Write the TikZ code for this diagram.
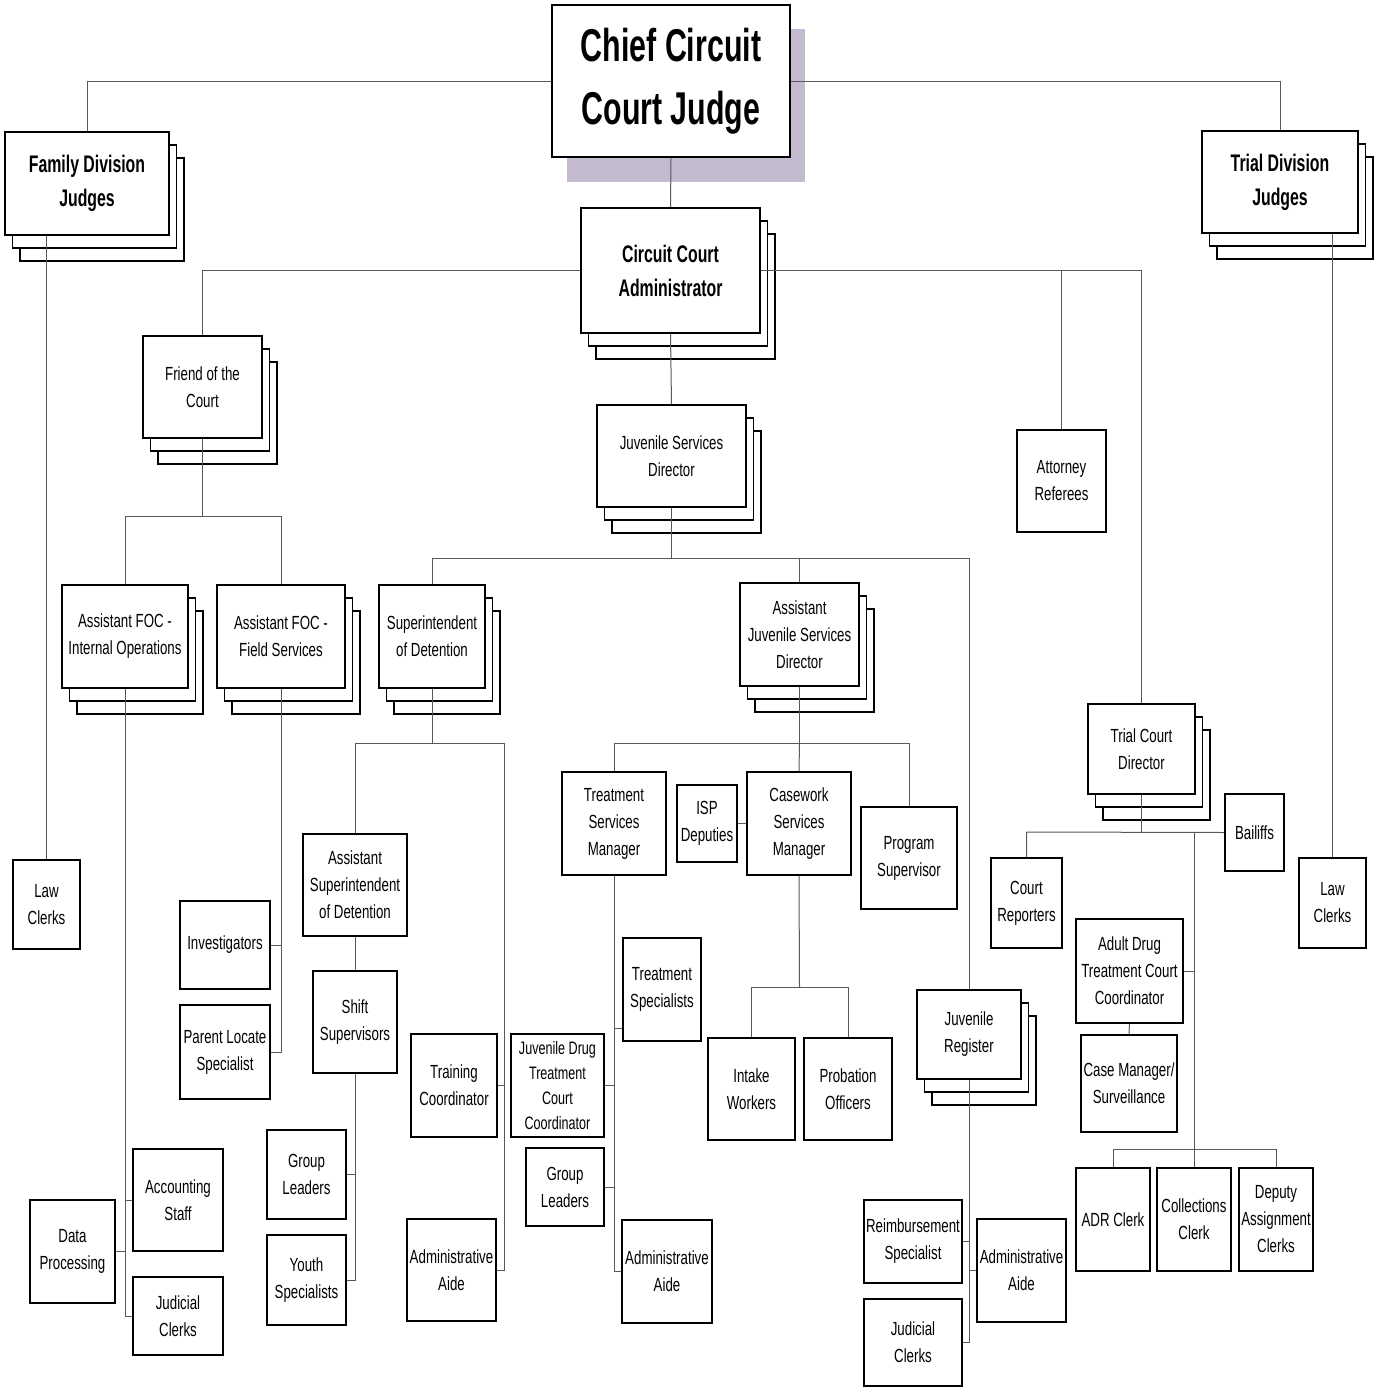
\documentclass[tikz,border=0pt]{standalone}
\usepackage{fontspec}
\setmainfont{Liberation Sans}
\newfontfamily\nar[FakeStretch=0.7]{Liberation Sans}
\newfontfamily\narb[FakeStretch=0.66]{Liberation Sans}
\usetikzlibrary{calc}
\definecolor{shadowc}{RGB}{196,186,208}
\tikzset{
  box/.style={draw=black, line width=1.6pt, fill=white, align=center, inner sep=0.5pt,
    font=\nar\fontsize{19}{27}\selectfont},
  bigbox/.style={font=\narb\bfseries\fontsize{24}{34}\selectfont},
  chiefbox/.style={font=\narb\bfseries\fontsize{46}{63}\selectfont},
  smallbox/.style={font=\nar\fontsize{18}{25}\selectfont},
  stk/.style={draw=black, line width=1.6pt, fill=white},
  conn/.style={draw=black!65, line width=1pt},
}
\newcommand\bx[7][]{\node[box,#1,minimum width={(#5-#3)*1pt},minimum height={(#6-#4)*1pt}] (#2) at ({(#3+#5)/2},{(#4+#6)/2}) {#7};}
\newcommand\sbx[7][]{%
  \draw[stk] ({#3+15},{#4+26}) rectangle ({#5+15},{#6+26});%
  \draw[stk] ({#3+7.5},{#4+13}) rectangle ({#5+7.5},{#6+13});%
  \bx[#1]{#2}{#3}{#4}{#5}{#6}{#7}}
\begin{document}
\begin{tikzpicture}[x=1pt,y=-1pt]
\fill[white] (0,0) rectangle (1374,1387);
\useasboundingbox (0,0) rectangle (1374,1387);

% chief
\fill[shadowc] (567,29) rectangle (805,182);
\bx[chiefbox]{chief}{552}{5}{790}{157}{Chief Circuit\\Court Judge}
\sbx[bigbox]{fdj}{5}{132}{169}{235}{Family Division\\Judges}
\sbx[bigbox]{tdj}{1202}{131}{1358}{233}{Trial Division\\Judges}
\sbx[bigbox]{cca}{581}{208}{760}{333}{Circuit Court\\Administrator}
\sbx{foc}{143}{336}{262}{438}{Friend of the\\Court}
\sbx{jsd}{597}{405}{746}{507}{Juvenile Services\\Director}
\bx{atty}{1017}{430}{1106}{532}{Attorney\\Referees}
\sbx{afi}{62}{585}{188}{688}{Assistant FOC -\\Internal Operations}
\sbx{aff}{217}{585}{345}{688}{Assistant FOC -\\Field Services}
\sbx{sod}{379}{585}{485}{688}{Superintendent\\of Detention}
\sbx{ajsd}{740}{583}{859}{686}{Assistant\\Juvenile Services\\Director}
\sbx{tcd}{1088}{704}{1195}{794}{Trial Court\\Director}
\bx{bail}{1225}{794}{1284}{871}{Bailiffs}
\bx{lcl}{13}{860}{80}{949}{Law\\Clerks}
\bx{lcr}{1299}{858}{1366}{948}{Law\\Clerks}
\bx{crep}{991}{858}{1062}{948}{Court\\Reporters}
\bx{tsm}{562}{772}{666}{875}{Treatment\\Services\\Manager}
\bx{isp}{677}{785}{737}{862}{ISP\\Deputies}
\bx{csm}{747}{772}{851}{875}{Casework\\Services\\Manager}
\bx{psup}{861}{807}{957}{909}{Program\\Supervisor}
\bx{asod}{303}{834}{407}{936}{Assistant\\Superintendent\\of Detention}
\bx{inv}{180}{901}{270}{989}{Investigators}
\bx{pls}{180}{1005}{270}{1099}{Parent Locate\\Specialist}
\bx{shift}{313}{971}{397}{1073}{Shift\\Supervisors}
\bx{trs}{623}{938}{701}{1041}{Treatment\\Specialists}
\bx{adtcc}{1076}{919}{1183}{1023}{Adult Drug\\Treatment Court\\Coordinator}
\sbx{jr}{917}{990}{1021}{1079}{Juvenile\\Register}
\bx{train}{411}{1034}{497}{1137}{Training\\Coordinator}
\bx[smallbox]{jdtc}{511}{1034}{604}{1137}{Juvenile Drug\\Treatment\\Court\\Coordinator}
\bx{intake}{708}{1038}{795}{1140}{Intake\\Workers}
\bx{prob}{804}{1038}{892}{1140}{Probation\\Officers}
\bx{cm}{1081}{1035}{1177}{1132}{Case Manager/\\Surveillance}
\bx{glA}{267}{1130}{346}{1219}{Group\\Leaders}
\bx{glB}{526}{1148}{604}{1226}{Group\\Leaders}
\bx{acc}{133}{1149}{223}{1251}{Accounting\\Staff}
\bx{dp}{30}{1200}{115}{1303}{Data\\Processing}
\bx{reimb}{864}{1200}{962}{1283}{Reimbursement\\Specialist}
\bx{adr}{1076}{1168}{1150}{1271}{ADR Clerk}
\bx{coll}{1157}{1168}{1231}{1271}{Collections\\Clerk}
\bx{dep}{1239}{1168}{1313}{1271}{Deputy\\Assignment\\Clerks}
\bx{aaA}{407}{1219}{496}{1321}{Administrative\\Aide}
\bx{aaB}{622}{1220}{712}{1323}{Administrative\\Aide}
\bx{aaC}{977}{1219}{1066}{1322}{Administrative\\Aide}
\bx{ys}{267}{1235}{346}{1325}{Youth\\Specialists}
\bx{jcA}{133}{1277}{223}{1355}{Judicial\\Clerks}
\bx{jcB}{864}{1299}{962}{1386}{Judicial\\Clerks}

% junction coordinates
\coordinate (foch) at (202.5,516);
\coordinate (jsdh) at (671.5,558);
\coordinate (sodh) at (432,743);
\coordinate (detr) at (504,743);
\coordinate (ajh) at (799.5,743);
\coordinate (csmh) at (799.5,987);
\coordinate (tcdh) at (1141.5,832);
\coordinate (clh) at (1194,1149);

% connectors
\draw[conn] (fdj.north) |- (chief.west);
\draw[conn] (tdj.north) |- (chief.east);
\draw[conn] (chief.south) -- (cca.north);
\draw[conn] (lcl.north) -- (lcl.north |- fdj.south);
\draw[conn] (lcr.north) -- (lcr.north |- tdj.south);
\draw[conn] (foc.north) |- (cca.west);
\draw[conn] (cca.east) -| (tcd.north);
\draw[conn] (atty.north) -- (atty.north |- cca.east);
\draw[conn] (cca.south) -- (jsd.north);
% FOC
\draw[conn] (foc.south) -- (foch);
\draw[conn] (afi.north) -- (afi.north |- foch) -- (aff.north |- foch) -- (aff.north);
\draw[conn] (afi.south) -- (afi.south |- jcA.west) -- (jcA.west);
\draw[conn] (acc.west) -- (acc.west -| afi.south);
\draw[conn] (dp.east) -- (dp.east -| afi.south);
\draw[conn] (aff.south) -- (aff.south |- pls.east) -- (pls.east);
\draw[conn] (inv.east) -- (inv.east -| aff.south);
% JSD
\draw[conn] (jsd.south) -- (jsdh);
\draw[conn] (sod.north) -- (sod.north |- jsdh) -- (jr.north |- jsdh) -- (jr.north);
\draw[conn] (ajsd.north) -- (ajsd.north |- jsdh);
% detention
\draw[conn] (sod.south) -- (sodh);
\draw[conn] (asod.north) -- (asod.north |- sodh) -- (detr) -- (detr |- aaA.east) -- (aaA.east);
\draw[conn] (train.east) -- (train.east -| detr);
\draw[conn] (asod.south) -- (shift.north);
\draw[conn] (shift.south) -- (shift.south |- ys.east) -- (ys.east);
\draw[conn] (glA.east) -- (glA.east -| shift.south);
% AJSD
\draw[conn] (ajsd.south) -- (ajh);
\draw[conn] (tsm.north) -- (tsm.north |- ajh) -- (psup.north |- ajh) -- (psup.north);
\draw[conn] (ajh) -- (csm.north);
\draw[conn] (isp.east) -- (csm.west);
\draw[conn] (tsm.south) -- (tsm.south |- aaB.west) -- (aaB.west);
\draw[conn] ([yshift=13pt]trs.south west) -- ([yshift=13pt]trs.south west -| tsm.south);
\draw[conn] (jdtc.east) -- (jdtc.east -| tsm.south);
\draw[conn] (glB.east) -- (glB.east -| tsm.south);
\draw[conn] (csm.south) -- (csmh);
\draw[conn] (intake.north) -- (intake.north |- csmh) -- (prob.north |- csmh) -- (prob.north);
% Juvenile register
\draw[conn] (jr.south) -- (jr.south |- jcB.east) -- (jcB.east);
\draw[conn] (reimb.east) -- (reimb.east -| jr.south);
\draw[conn] (aaC.west) -- (aaC.west -| jr.south);
% Trial court director
\draw[conn] (tcd.south) -- (tcdh);
\draw[conn] (crep.north) -- (crep.north |- tcdh) -- (bail.west);
\draw[conn] (coll.north |- tcdh) -- (coll.north);
\draw[conn] (adtcc.east) -- (adtcc.east -| coll.north);
\draw[conn] (adtcc.south) -- (cm.north);
\draw[conn] (adr.north) -- (adr.north |- clh) -- (dep.north |- clh) -- (dep.north);
\end{tikzpicture}
\end{document}
